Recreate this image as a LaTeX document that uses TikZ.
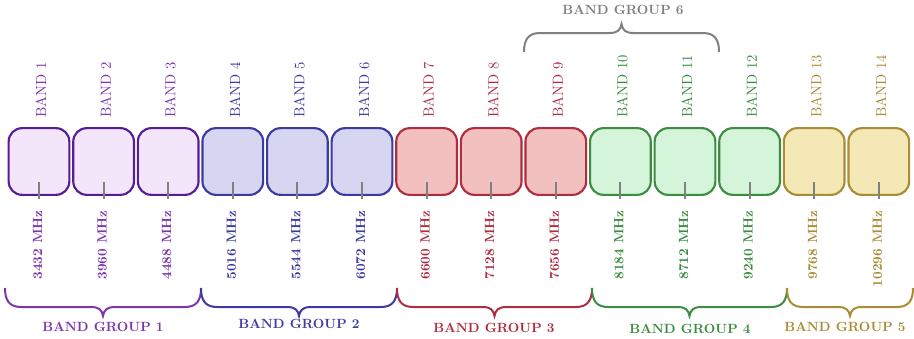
\documentclass[tikz,border=0pt]{standalone}
\usepackage{tikz}
\usetikzlibrary{calc}

\definecolor{lineA}{RGB}{88,28,150}
\definecolor{fillA}{RGB}{244,230,250}
\definecolor{textA}{RGB}{126,54,174}
\definecolor{lineB}{RGB}{60,58,160}
\definecolor{fillB}{RGB}{214,214,240}
\definecolor{textB}{RGB}{62,60,160}
\definecolor{lineC}{RGB}{175,45,65}
\definecolor{fillC}{RGB}{242,192,190}
\definecolor{textC}{RGB}{175,45,65}
\definecolor{lineD}{RGB}{60,140,65}
\definecolor{fillD}{RGB}{212,245,218}
\definecolor{textD}{RGB}{60,140,65}
\definecolor{lineE}{RGB}{170,140,55}
\definecolor{fillE}{RGB}{243,232,182}
\definecolor{textE}{RGB}{170,140,55}
\definecolor{lineF}{RGB}{128,128,128}

% brace from x #2 to x #3, ends at y #4, pointing down (#5=1) or up (#5=-1)
\def\groupbrace[#1](#2:#3:#4:#5){\draw[#1] (#2,#4) .. controls (#2,#4+#5*12) and (#2+4,#4+#5*19) .. (#2+16,#4+#5*19)
		-- ({(#2+#3)/2-12},#4+#5*19) .. controls ({(#2+#3)/2-4},#4+#5*19) and ({(#2+#3)/2-1},#4+#5*22) .. ({(#2+#3)/2},#4+#5*28)
		.. controls ({(#2+#3)/2+1},#4+#5*22) and ({(#2+#3)/2+4},#4+#5*19) .. ({(#2+#3)/2+12},#4+#5*19)
		-- (#3-16,#4+#5*19) .. controls (#3-4,#4+#5*19) and (#3,#4+#5*12) .. (#3,#4);}

\begin{document}
\begin{tikzpicture}[x=0.75pt, y=-0.75pt,
	bandbox/.style={rounded corners=10pt, line width=1.6pt, minimum width=45.5pt, minimum height=50pt, inner sep=0pt},
	tickline/.style={gray, line width=1.5pt},
	bandlabel/.style={rotate=90, anchor=west, inner sep=0pt, font=\fontsize{10.95}{13}\selectfont},
	freqlabel/.style={rotate=90, anchor=east, inner sep=0pt, font=\bfseries},
	grouplabel/.style={inner sep=0pt, font=\bfseries},
	bracestyle/.style={line width=1.5pt}]

	\useasboundingbox (0,0) rectangle (914,339);

	\foreach \i/\g in {1/A,2/A,3/A,4/B,5/B,6/B,7/C,8/C,9/C,10/D,11/D,12/D,13/E,14/E} {
		\pgfmathsetmacro{\x}{39+(\i-1)*64.6}
		\pgfmathtruncatemacro{\f}{3432+(\i-1)*528}
		\node[bandbox, draw=line\g, fill=fill\g] (band\i) at (\x,161.5) {};
		\draw[tickline] (\x,182) -- (\x,199);
		\node[bandlabel, text=text\g] (name\i) at (\x+2,118) {BAND \i};
		\node[freqlabel, text=text\g] (freq\i) at (\x-1.5,210) {\f\ MHz};
	}

	\groupbrace[bracestyle, textA](5:201:288:1)
	\groupbrace[bracestyle, lineB](201:397:288:1)
	\groupbrace[bracestyle, lineC](397:592:288:1)
	\groupbrace[bracestyle, lineD](592:787:288:1)
	\groupbrace[bracestyle, lineE](787:913:288:1)
	\groupbrace[bracestyle, lineF](524:719:52:-1)

	\node[grouplabel, text=textA] (group1) at (103,327) {BAND GROUP 1};
	\node[grouplabel, text=textB] (group2) at (299,324) {BAND GROUP 2};
	\node[grouplabel, text=textC] (group3) at (494,328) {BAND GROUP 3};
	\node[grouplabel, text=textD] (group4) at (690,329) {BAND GROUP 4};
	\node[grouplabel, text=textE] (group5) at (845,327) {BAND GROUP 5};
	\node[grouplabel, text=lineF] (group6) at (623,10) {BAND GROUP 6};

\end{tikzpicture}
\end{document}
